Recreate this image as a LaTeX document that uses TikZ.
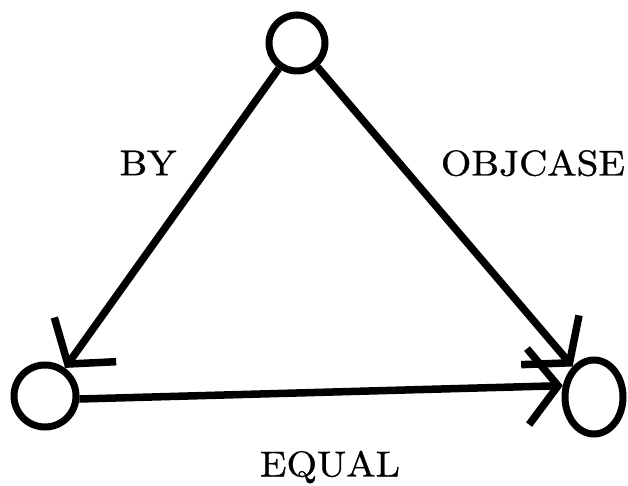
\documentclass[tikz,border=0pt]{standalone}
\usepackage{fontspec}
\usetikzlibrary{arrows.meta,shapes.geometric}
\newfontfamily\labfont{lmroman10-regular.otf}[FakeBold=0.8]
\begin{document}
\begin{tikzpicture}[x=1bp,y=1bp,
  state/.style={circle,draw,line width=7bp,inner sep=0pt},
  edge/.style={line width=7.5bp,-{Straight Barb[length=30bp,width=76bp]}},
  lab/.style={font=\labfont\fontsize{36}{40}\selectfont,inner sep=0pt,xscale=1.09,transform shape}]
\useasboundingbox (0,0) rectangle (628,486);
\node[state,minimum size=56bp] (t) at (297,443) {};
\node[state,minimum size=62bp] (bl) at (45,90) {};
\node[ellipse,draw,line width=7bp,inner sep=0pt,minimum width=58bp,minimum height=74bp] (br) at (594,89) {};
\draw[edge] (t) -- (bl);
\draw[edge] (t) -- (br.125);
\draw[edge] (bl.-5) -- (br.160);
\node[lab] (by) at (148,323) {BY};
\node[lab] (obj) at (533,323) {OBJCASE};
\node[lab] (eq) at (330,19) {EQUAL};
\end{tikzpicture}
\end{document}
